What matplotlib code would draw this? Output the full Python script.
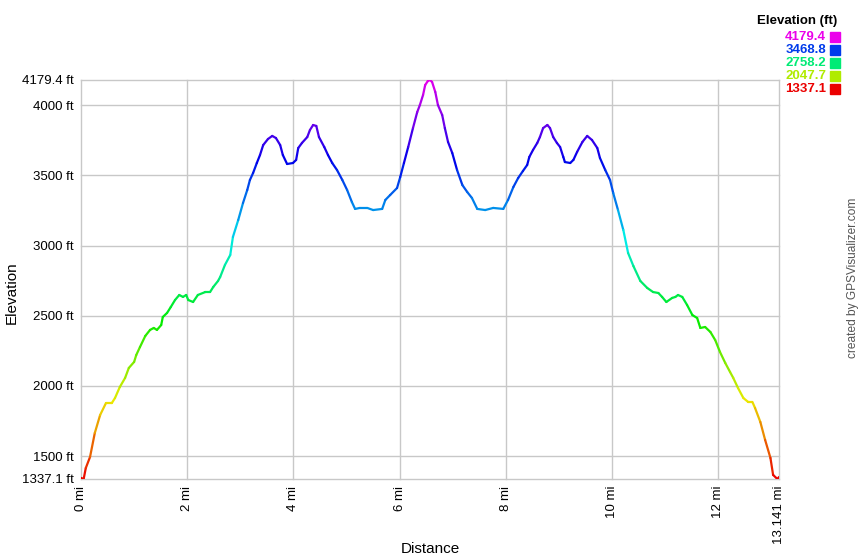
import numpy as np
import matplotlib
matplotlib.use("Agg")
import matplotlib.pyplot as plt
from matplotlib.collections import LineCollection
from matplotlib.colors import hsv_to_rgb
from matplotlib.patches import Rectangle

plt.rcParams['font.family'] = ['Liberation Sans', 'DejaVu Sans']

# ── track profile ────────────────────────────────────────────────────────────
dist_mi = [0.00, 0.05, 0.09, 0.17, 0.26, 0.36, 0.47, 0.58, 0.64, 0.73,
           0.83, 0.90, 1.00, 1.04, 1.11, 1.21, 1.30, 1.37, 1.43, 1.51,
           1.54, 1.62, 1.69, 1.77, 1.85, 1.92, 1.98, 2.02, 2.11, 2.20,
           2.34, 2.43, 2.49, 2.58, 2.62, 2.71, 2.81, 2.86, 2.96, 3.05,
           3.13, 3.18, 3.24, 3.31, 3.37, 3.43, 3.52, 3.60, 3.67, 3.75,
           3.80, 3.88, 3.99, 4.05, 4.09, 4.16, 4.26, 4.31, 4.37, 4.43,
           4.48, 4.58, 4.65, 4.73, 4.82, 4.92, 5.01, 5.10, 5.16, 5.25,
           5.39, 5.50, 5.67, 5.73, 5.82, 5.95, 6.01, 6.08, 6.16, 6.25,
           6.33, 6.38, 6.44, 6.48, 6.53, 6.57, 6.61, 6.67, 6.72, 6.80,
           6.85, 6.91, 6.99, 7.08, 7.18, 7.27, 7.36, 7.46, 7.61, 7.76,
           7.95, 8.04, 8.14, 8.23, 8.32, 8.40, 8.44, 8.51, 8.59, 8.64,
           8.70, 8.78, 8.83, 8.89, 8.96, 9.02, 9.08, 9.11, 9.21, 9.27,
           9.34, 9.44, 9.53, 9.62, 9.72, 9.77, 9.87, 9.96, 10.02, 10.11,
           10.21, 10.30, 10.40, 10.53, 10.66, 10.77, 10.87, 10.94, 11.02, 11.13,
           11.19, 11.24, 11.32, 11.41, 11.51, 11.60, 11.66, 11.75, 11.85, 11.94,
           12.03, 12.13, 12.22, 12.28, 12.37, 12.47, 12.56, 12.64, 12.69, 12.79,
           12.88, 12.98, 13.03, 13.11, 13.141]
elev_ft = [1345, 1337, 1415, 1494, 1665, 1793, 1878, 1878, 1914, 1992,
           2057, 2128, 2171, 2220, 2277, 2356, 2399, 2413, 2399, 2434,
           2491, 2520, 2562, 2612, 2648, 2634, 2648, 2612, 2598, 2648,
           2669, 2669, 2705, 2748, 2776, 2862, 2933, 3061, 3182, 3303,
           3396, 3467, 3517, 3588, 3645, 3716, 3759, 3781, 3766, 3716,
           3645, 3581, 3588, 3610, 3695, 3731, 3773, 3823, 3859, 3852,
           3773, 3702, 3645, 3588, 3538, 3467, 3396, 3310, 3261, 3268,
           3268, 3253, 3261, 3325, 3360, 3410, 3488, 3588, 3702, 3837,
           3951, 4001, 4073, 4144, 4172, 4179.4, 4165, 4094, 4001, 3930,
           3837, 3738, 3659, 3538, 3431, 3382, 3339, 3261, 3253, 3268,
           3261, 3325, 3417, 3481, 3531, 3574, 3631, 3681, 3731, 3773,
           3837, 3859, 3837, 3773, 3731, 3702, 3631, 3595, 3588, 3610,
           3667, 3738, 3781, 3752, 3695, 3624, 3538, 3467, 3374, 3253,
           3111, 2947, 2854, 2748, 2698, 2669, 2662, 2634, 2598, 2627,
           2634, 2648, 2634, 2577, 2505, 2484, 2413, 2420, 2384, 2327,
           2242, 2163, 2099, 2057, 1985, 1914, 1886, 1886, 1843, 1743,
           1615, 1487, 1366, 1337.1, 1351]

y_min, y_max = 1337.1, 4179.4
x_max = 13.141
y_ticks = [1337.1, 1500, 2000, 2500, 3000, 3500, 4000, 4179.4]
y_labels = ["1337.1 ft", "1500 ft", "2000 ft", "2500 ft", "3000 ft",
            "3500 ft", "4000 ft", "4179.4 ft"]
x_ticks = [0, 2, 4, 6, 8, 10, 12, 13.141]
x_labels = ["0 mi", "2 mi", "4 mi", "6 mi", "8 mi", "10 mi", "12 mi", "13.141 mi"]
legend_vals = [4179.4, 3468.8, 2758.2, 2047.7, 1337.1]


def elev_color(e):
    # red at the lowest point, hue running up to magenta at the top
    t = np.clip((np.asarray(e, float) - y_min) / (y_max - y_min), 0, 1)
    hsv = np.stack([t * 300 / 360, np.ones_like(t), np.full_like(t, 0.92)], axis=-1)
    return hsv_to_rgb(hsv)


# ── figure ───────────────────────────────────────────────────────────────────
W, H = 860, 560
fig = plt.figure(figsize=(W / 100, H / 100), dpi=100)
ax = fig.add_axes([81 / W, 1 - 479 / H, 698 / W, 399 / H])

x = np.array(dist_mi)
y = np.array(elev_ft)
pts = np.column_stack([x, y]).reshape(-1, 1, 2)
segs = np.concatenate([pts[:-1], pts[1:]], axis=1)
mid = (y[:-1] + y[1:]) / 2
lc = LineCollection(segs, colors=elev_color(mid), linewidth=1.6,
                    capstyle="round", joinstyle="round", zorder=3)
ax.add_collection(lc)

ax.set_xlim(0, x_max)
ax.set_ylim(y_min, y_max)
ax.set_xticks(x_ticks)
ax.set_xticklabels(x_labels, rotation=90, fontsize=9.5)
ax.set_yticks(y_ticks)
ax.set_yticklabels(y_labels, fontsize=9.5)
ax.tick_params(length=0, pad=5)
ax.grid(True, color="#c8c8c8", linewidth=1.0, zorder=0)
for gl in ax.get_xgridlines() + ax.get_ygridlines():
    gl.set_clip_on(False)
for s in ax.spines.values():
    s.set_visible(False)

# axis titles
fig.text(430 / W, 1 - 549 / H, "Distance", ha="center", va="center", fontsize=11)
fig.text(12 / W, 1 - 293 / H, "Elevation", ha="center", va="center",
         rotation=90, fontsize=11)

# ── legend, top right ────────────────────────────────────────────────────────
fig.text(837 / W, 1 - 21 / H, "Elevation (ft)", ha="right", va="center",
         fontsize=9.5, fontweight="bold")
for i, v in enumerate(legend_vals):
    yy = 1 - (37 + 13 * i) / H
    c = elev_color(v)
    fig.text(826 / W, yy, f"{v:.1f}", ha="right", va="center",
             fontsize=9.5, fontweight="bold", color=c)
    fig.patches.append(Rectangle((830 / W, yy - 5 / H), 10 / W, 10 / H,
                                 transform=fig.transFigure, color=c))

fig.text(853 / W, 1 - 278 / H, "created by GPSVisualizer.com", rotation=90,
         ha="center", va="center", fontsize=8.6, color="#555555")

plt.savefig("out.png", dpi=100)
